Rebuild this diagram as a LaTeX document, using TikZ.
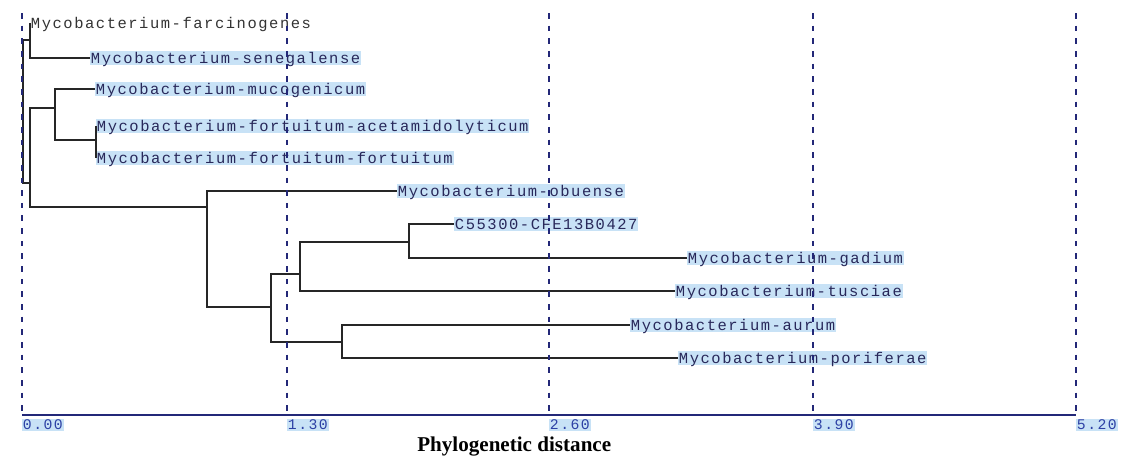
\documentclass[tikz,border=0pt]{standalone}
\usepackage{fontspec}
\newfontfamily\leaffont[LetterSpace=10]{Liberation Mono}
\newfontfamily\titlefont{Liberation Serif}
\definecolor{hilite}{RGB}{200,226,246}
\definecolor{leafink}{RGB}{40,40,90}
\definecolor{axisink}{RGB}{35,40,120}
\definecolor{tickink}{RGB}{45,65,165}
\begin{document}
\begin{tikzpicture}[
    x=0.025cm, y=-0.025cm,
    branch/.style={draw=black!85, line width=0.9pt},
    leaf/.style={anchor=west, inner xsep=0.5pt, inner ysep=0.2pt,
      text height=8.4pt, text depth=0.6pt,
      font=\leaffont\fontsize{11}{13}\selectfont, text=leafink, fill=hilite},
    grid line/.style={draw=axisink, line width=1pt, dash pattern=on 4pt off 5pt},
    axis line/.style={draw=axisink, line width=1pt},
    tick label/.style={anchor=west, inner xsep=0.5pt, inner ysep=1pt,
      font=\leaffont\fontsize{10.5}{12}\selectfont, text=tickink, fill=hilite},
    ]
\useasboundingbox (0,0) rectangle (1121,456);
% inner nodes of the tree
\coordinate (root) at (23,40);
\coordinate (A) at (30,40);
\coordinate (B) at (30,183);
\coordinate (M) at (55,108);
\coordinate (F) at (96,140);
\coordinate (C) at (207,207);
\coordinate (D) at (271,307);
\coordinate (E) at (300,274);
\coordinate (H) at (409,242);
\coordinate (G) at (342,342);
% leaves
\node[leaf, fill=none, text=black!80] (farc) at (30,23) {Mycobacterium-farcinogenes};
\node[leaf] (sene) at (90,58) {Mycobacterium-senegalense};
\node[leaf] (muco) at (95,89) {Mycobacterium-mucogenicum};
\node[leaf] (acet) at (96,126) {Mycobacterium-fortuitum-acetamidolyticum};
\node[leaf] (fort) at (96,158) {Mycobacterium-fortuitum-fortuitum};
\node[leaf] (obue) at (397,191) {Mycobacterium-obuense};
\node[leaf] (cfe) at (454,224) {C55300-CFE13B0427};
\node[leaf] (gadi) at (687,258) {Mycobacterium-gadium};
\node[leaf] (tusc) at (675,291) {Mycobacterium-tusciae};
\node[leaf] (auru) at (630,325) {Mycobacterium-aurum};
\node[leaf] (pori) at (678,358) {Mycobacterium-poriferae};
% branches
\draw[branch] (root) |- (A);
\draw[branch] (root) |- (B);
\draw[branch] (A) |- (farc.west);
\draw[branch] (A) |- (sene.west);
\draw[branch] (B) |- (M);
\draw[branch] (B) |- (C);
\draw[branch] (M) |- (muco.west);
\draw[branch] (M) |- (F);
\draw[branch] (F) |- (acet.west);
\draw[branch] (F) |- (fort.west);
\draw[branch] (C) |- (obue.west);
\draw[branch] (C) |- (D);
\draw[branch] (D) |- (E);
\draw[branch] (D) |- (G);
\draw[branch] (E) |- (H);
\draw[branch] (E) |- (tusc.west);
\draw[branch] (H) |- (cfe.west);
\draw[branch] (H) |- (gadi.west);
\draw[branch] (G) |- (auru.west);
\draw[branch] (G) |- (pori.west);
% distance axis
\foreach \i/\x/\v in {0/22/0.00, 1/287/1.30, 2/549/2.60, 3/813/3.90, 4/1076/5.20} {
  \coordinate (top\i) at (\x,13);
  \coordinate (tick\i) at (\x,415);
  \draw[grid line] (top\i) -- (tick\i);
  \node[tick label] (lab\i) at (\x,425) {\v};
}
\draw[axis line] (tick0) -- (tick4);
\node[anchor=west, inner sep=0pt, font=\titlefont\bfseries\fontsize{15}{17}\selectfont] (xlabel) at (417,447) {Phylogenetic distance};
\end{tikzpicture}
\end{document}
